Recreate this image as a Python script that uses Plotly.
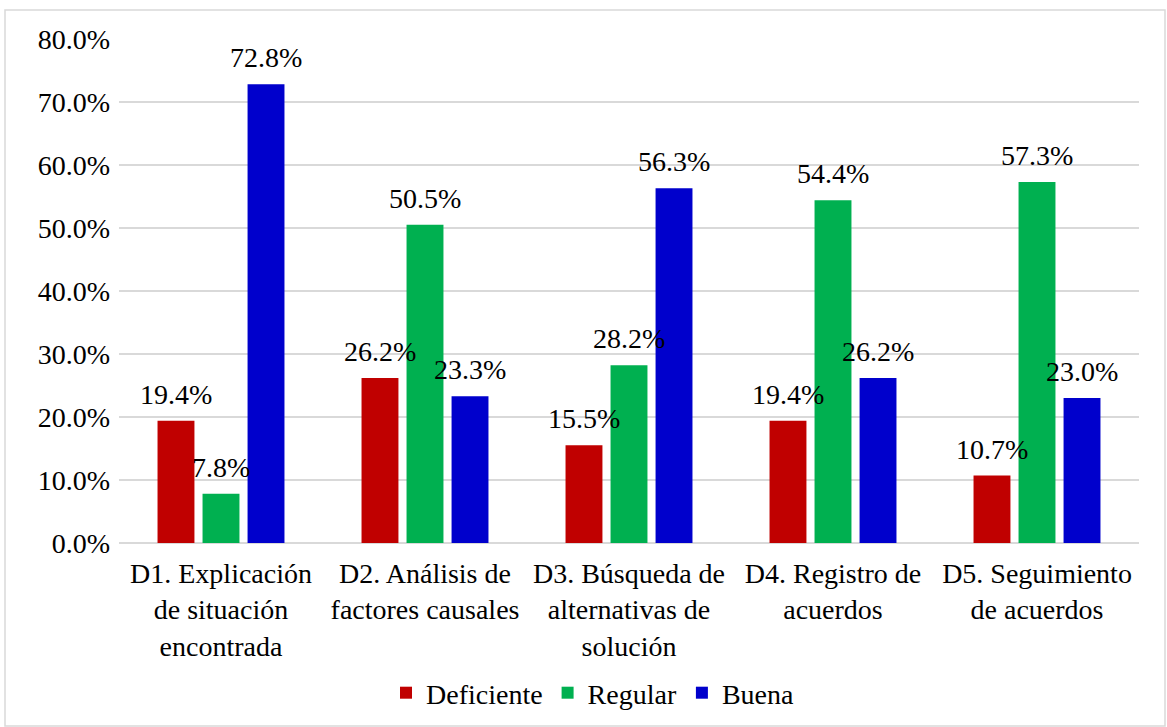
import plotly.graph_objects as go

categories = [
    "D1. Explicación<br>de situación<br>encontrada",
    "D2. Análisis de<br>factores causales",
    "D3. Búsqueda de<br>alternativas de<br>solución",
    "D4. Registro de<br>acuerdos",
    "D5. Seguimiento<br>de acuerdos",
]
series_names = ["Deficiente", "Regular", "Buena"]
deficiente = [0.194, 0.262, 0.155, 0.194, 0.107]
regular = [0.078, 0.505, 0.282, 0.544, 0.573]
buena = [0.728, 0.233, 0.563, 0.262, 0.230]
colors = ["#C00000", "#00B050", "#0000CC"]
y_ticks = [0, 0.1, 0.2, 0.3, 0.4, 0.5, 0.6, 0.7, 0.8]

FONT = "Times New Roman, Liberation Serif, serif"
FS = 28
W, H = 1167, 727
L, T = 119, 39
PW, PH = 1020, 504
R = W - L - PW
B = H - T - PH
BARGAP, GROUPGAP = 0.338, 0.18
pitch = PW / len(categories) * (1 - BARGAP) / 3

fig = go.Figure()
series = [deficiente, regular, buena]
for name, vals, col in zip(series_names, series, colors):
    fig.add_trace(go.Bar(
        name=name, x=categories, y=vals, marker_color=col,
        marker_line_width=0, cliponaxis=False,
    ))

for i, vals in enumerate(series):
    for cat, v in zip(categories, vals):
        fig.add_annotation(x=cat, y=v, xref="x", yref="y",
                           text=f"{v*100:.1f}%", showarrow=False,
                           xanchor="center", yanchor="bottom",
                           xshift=(i - 1) * pitch, yshift=9,
                           font=dict(family=FONT, size=FS, color="#000000"))

def sx(px):
    return (px - L) / PW
def sy(py):
    return (H - B - py) / PH

fig.add_shape(type="rect", xref="paper", yref="paper",
              x0=sx(5), x1=sx(1165), y0=sy(726), y1=sy(10),
              line=dict(color="#D9D9D9", width=1.5),
              fillcolor="rgba(0,0,0,0)", layer="below")

fig.update_layout(
    width=W, height=H,
    margin=dict(l=L, r=R, t=T, b=B, autoexpand=False),
    paper_bgcolor="white", plot_bgcolor="white",
    barmode="group", bargap=BARGAP, bargroupgap=GROUPGAP,
    font=dict(family=FONT, size=FS, color="#000000"),
    showlegend=True,
    legend=dict(orientation="h", x=sx(593), xanchor="center",
                y=sy(693), yanchor="middle",
                font=dict(family=FONT, size=FS, color="#000000"),
                traceorder="normal"),
)
fig.update_yaxes(range=[0, 0.8], tickvals=y_ticks, tickformat=".1%",
                 showgrid=True, gridcolor="#D9D9D9", gridwidth=1.5,
                 zeroline=True, zerolinecolor="#D9D9D9", zerolinewidth=1.5,
                 showline=False, ticks="", ticklabelstandoff=8,
                 tickfont=dict(family=FONT, size=FS, color="#000000"))
fig.update_xaxes(showgrid=False, showline=False, ticks="",
                 ticklabelstandoff=11,
                 tickfont=dict(family=FONT, size=FS, color="#000000"),
                 tickangle=0)

fig.write_html("out.html", config={"displayModeBar": False},
               post_script="document.body.style.margin='0';document.body.style.overflow='hidden';")
